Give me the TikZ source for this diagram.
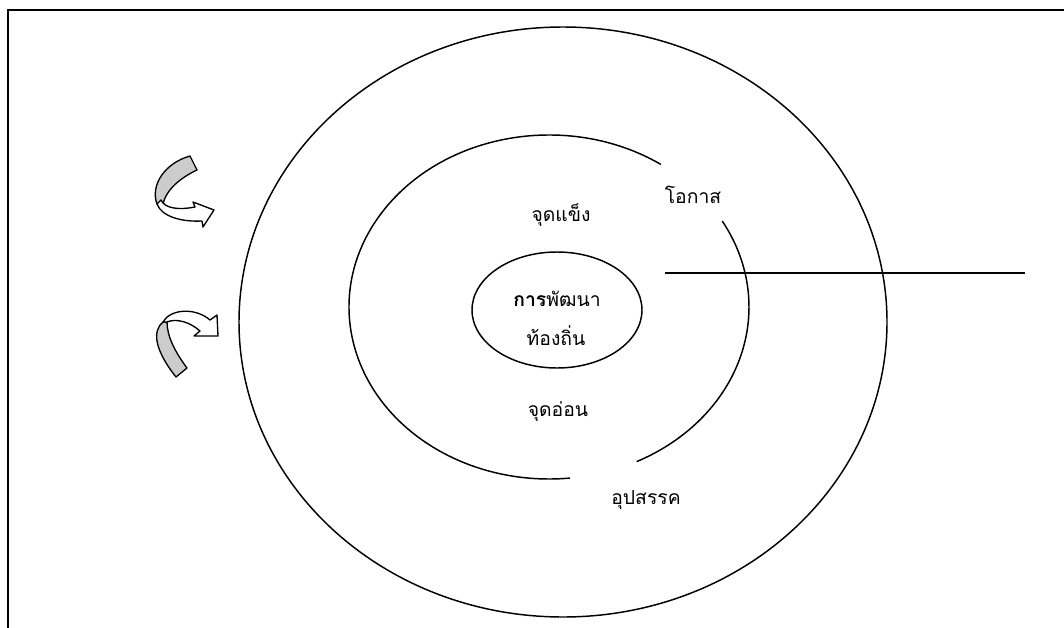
\documentclass[tikz,border=0pt]{standalone}
\usepackage{fontspec}
\usetikzlibrary{shapes.geometric}
\newfontfamily\thaifont[Script=Thai]{Loma}
\begin{document}
\begin{tikzpicture}[x=0.75pt,y=-0.75pt,
  lbl/.style={font=\thaifont\fontsize{14.5}{17}\selectfont, inner sep=0pt},
  ring/.style={draw=black, line width=1.1pt},
  arrowband/.style={draw=black, line width=1pt, line join=round},
  frameline/.style={draw=black, line width=1.4pt}]
\useasboundingbox (0,0) rectangle (1064,628);
% frame (top and left only)
\draw[frameline] (1064,10) -- (8,10) -- (8,628);
% outer ring
\draw[ring] (563,322) ellipse [x radius=324, y radius=295];
% middle ring, two arcs (angles negated because y axis points down)
\coordinate (mc) at (549,307);
\draw[ring] (mc) ++(-56:200 and 172) arc[start angle=-56, end angle=-276, x radius=200, y radius=172];
\draw[ring] (mc) ++(-30:200 and 172) arc[start angle=-30, end angle=64, x radius=200, y radius=172];
% inner ellipse
\node[draw=black, line width=1.1pt, ellipse, minimum width=127.5pt, minimum height=87pt, inner sep=0pt] (core) at (557,310) {};
\node[lbl] (t1) at (557,299) {\textbf{การ}พัฒนา};
\node[lbl] (t2) at (556,336) {ท้องถิ่น};
\node[lbl] (s) at (561,215) {จุดแข็ง};
\node[lbl] (w) at (558,412) {จุดอ่อน};
\node[lbl] (o) at (693,195) {โอกาส};
\node[lbl] (th) at (646,500) {อุปสรรค};
% horizontal line
\coordinate (la) at (665,273);
\coordinate (lb) at (1025,273);
\draw[ring] (la) -- (lb);
% upper curved arrow
\filldraw[arrowband, fill=black!20] (190,156) -- (197,170) .. controls (180,178) and (166,190) .. (163,204) -- (157,204) .. controls (150,185) and (165,163) .. (190,156) -- cycle;
\filldraw[arrowband, fill=white] (161,200) .. controls (165,209) and (180,210) .. (195,207) -- (193,202) -- (214,210) -- (203,227) -- (202,221) .. controls (182,222) and (162,217) .. (157,204) -- cycle;
% lower curved arrow
\filldraw[arrowband, fill=black!20] (176,377) -- (187,368) .. controls (175,352) and (167,336) .. (167,322) -- (163,322) .. controls (153,330) and (153,348) .. (176,377) -- cycle;
\filldraw[arrowband, fill=white] (163,322) .. controls (170,309) and (195,307) .. (210,320) -- (217,315) -- (218,336) -- (194,336) -- (200,331) .. controls (190,322) and (176,318) .. (167,322) -- cycle;
\end{tikzpicture}
\end{document}
